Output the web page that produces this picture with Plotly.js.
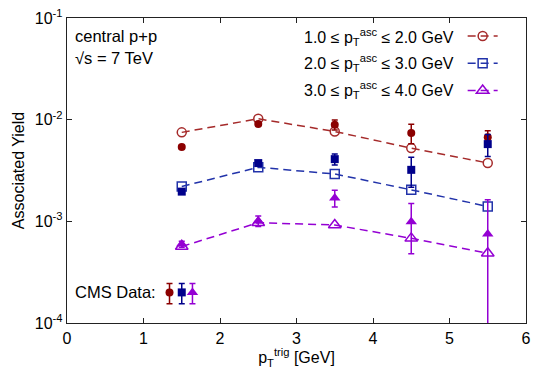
<!DOCTYPE html>
<html>
<head>
<meta charset="utf-8">
<script src="https://cdn.plot.ly/plotly-3.0.1.min.js"></script>
<style>
  body { margin: 0; background: #fff; }
  #chart { width: 554px; height: 388px; }
</style>
</head>
<body>
<div id="chart"></div>
<script>
// trigger pT bins (GeV)
var xTrig = [1.5, 2.5, 3.5, 4.5, 5.5];

// model curves (open symbols, dashed)
var model1 = [7.5e-3, 1.02e-2, 7.65e-3, 5.25e-3, 3.75e-3];
var model2 = [2.2e-3, 3.4e-3, 2.92e-3, 2.04e-3, 1.4e-3];
var model3 = [5.65e-4, 9.7e-4, 9.2e-4, 6.8e-4, 4.85e-4];

// CMS data (filled symbols) and errors
var cms1 = [5.37e-3, 9.06e-3, 8.9e-3, 7.4e-3, 6.7e-3];
var err1 = [2e-4, 3e-4, 1.0e-3, 1.6e-3, 1.1e-3];
var cms2 = [1.96e-3, 3.74e-3, 4.09e-3, 3.21e-3, 5.75e-3];
var err2 = [1e-4, 2e-4, 5e-4, 1.05e-3, 1.4e-3];
var cms3 = [5.97e-4, 1.01e-3, 1.7e-3, 9.9e-4, 7.5e-4];
var err3 = [4e-5, 1.2e-4, 3.2e-4, 5.1e-4, 8.8e-4];

// "CMS Data:" key symbols
var keyX = [1.34, 1.5, 1.64];
var keyY = [2.0e-4, 2.0e-4, 2.0e-4];
var keyErr = [4.5e-5, 4.5e-5, 4.5e-5];

var legendLabels = [
  "1.0 ≤ p<sub>T</sub><sup>asc</sup> ≤ 2.0 GeV",
  "2.0 ≤ p<sub>T</sub><sup>asc</sup> ≤ 3.0 GeV",
  "3.0 ≤ p<sub>T</sub><sup>asc</sup> ≤ 4.0 GeV"
];
var yTicks = [1e-4, 1e-3, 1e-2, 1e-1];
var yTickText = ["10<sup>-4</sup>", "10<sup>-3</sup>", "10<sup>-2</sup>", "10<sup>-1</sup>"];

var lineCol = ["#a52a2a", "#2233aa", "#9400d3"];
var fillCol = ["#8b0000", "#00008b", "#9400d3"];
var openSym = ["circle-open", "square-open", "triangle-up-open"];
var fillSym = ["circle", "square", "triangle-up"];
var models = [model1, model2, model3];
var cms = [cms1, cms2, cms3];
var errs = [err1, err2, err3];

var data = [];
for (var i = 0; i < 3; i++) {
  data.push({
    x: xTrig,
    y: models[i],
    mode: "lines+markers",
    name: "\u00a0",
    legendgroup: "g" + i,
    line: { color: lineCol[i], width: 1.5, dash: "8px,5px" },
    marker: { symbol: openSym[i], size: i == 2 ? 11 : 9, color: lineCol[i], line: { width: 1.5, color: lineCol[i] } },
    showlegend: true
  });
}
for (var i = 0; i < 3; i++) {
  data.push({
    x: xTrig,
    y: cms[i],
    mode: "markers",
    showlegend: false,
    marker: { symbol: fillSym[i], size: i == 2 ? 10 : 8, color: fillCol[i] },
    error_y: { type: "data", array: errs[i], visible: true, color: fillCol[i], thickness: 1.5, width: 3 }
  });
  data.push({
    x: [keyX[i]],
    y: [keyY[i]],
    mode: "markers",
    showlegend: false,
    marker: { symbol: fillSym[i], size: i == 2 ? 10 : 8, color: fillCol[i] },
    error_y: { type: "data", array: [keyErr[i]], visible: true, color: fillCol[i], thickness: 1.5, width: 3 }
  });
}

var annotations = [
  { text: "central p+p", x: 0.014, y: 0.942 },
  { text: "√s = 7 TeV", x: 0.014, y: 0.87 },
  { text: "CMS Data:", x: 0.014, y: 0.102 }
].map(function (a) {
  return {
    text: a.text, x: a.x, y: a.y, xref: "paper", yref: "paper",
    xanchor: "left", yanchor: "middle", showarrow: false,
    font: { size: 16.5, color: "#000" }
  };
});
var legY = [0.939, 0.853, 0.765];
for (var i = 0; i < 3; i++) {
  annotations.push({
    text: legendLabels[i], x: 0.848, y: legY[i], xref: "paper", yref: "paper",
    xanchor: "right", yanchor: "middle", showarrow: false,
    font: { size: 16, color: "#000" }
  });
}

var layout = {
  width: 554,
  height: 388,
  margin: { l: 67, r: 28, t: 18, b: 65 },
  paper_bgcolor: "#fff",
  plot_bgcolor: "#fff",
  font: { family: "'Liberation Sans', Arial, sans-serif", size: 16, color: "#000" },
  showlegend: true,
  legend: {
    x: 0.862, y: 0.992, xanchor: "left", yanchor: "top",
    bgcolor: "rgba(0,0,0,0)", borderwidth: 0,
    font: { size: 14 }, traceorder: "grouped", tracegroupgap: 6
  },
  xaxis: {
    range: [0, 6], dtick: 1, tick0: 0,
    ticks: "inside", ticklen: 5, tickwidth: 1, tickcolor: "#222",
    showline: true, linecolor: "#222", linewidth: 1.3, mirror: "ticks",
    showgrid: false, zeroline: false,
    tickfont: { size: 16 },
    title: { text: "p<sub>T</sub><sup>trig</sup> [GeV]", font: { size: 16 }, standoff: 6 }
  },
  yaxis: {
    type: "log", range: [-4, -1],
    tickvals: yTicks, ticktext: yTickText,
    ticks: "inside", ticklen: 5, tickwidth: 1, tickcolor: "#222",
    showline: true, linecolor: "#222", linewidth: 1.3, mirror: "ticks",
    showgrid: false, zeroline: false,
    tickfont: { size: 16 },
    title: { text: "Associated Yield", font: { size: 16 }, standoff: 6 }
  },
  annotations: annotations
};

Plotly.newPlot("chart", data, layout, { displayModeBar: false, staticPlot: true });
</script>
</body>
</html>
